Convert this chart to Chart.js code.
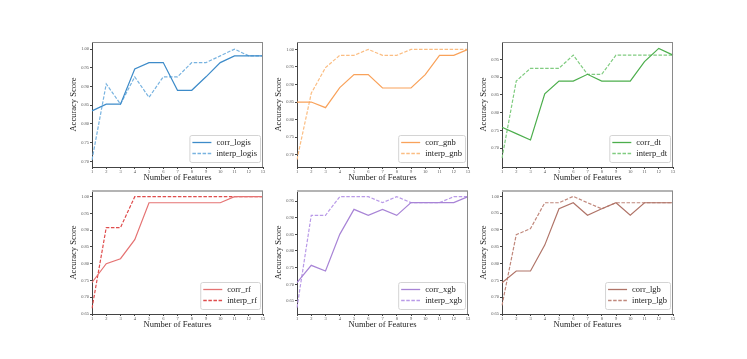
<!DOCTYPE html>
<html>
<head>
<meta charset="utf-8">
<script src="https://cdn.jsdelivr.net/npm/chart.js@4.4.0/dist/chart.umd.min.js"></script>
<style>
  body { margin: 0; background: #fff; width: 747px; height: 359px; position: relative; overflow: hidden; }
  canvas { position: absolute; }
</style>
</head>
<body>
<script>
// Number of features on the x axis
const features = [1, 2, 3, 4, 5, 6, 7, 8, 9, 10, 11, 12, 13];

// Accuracy scores
const corrLogis   = [0.835, 0.853, 0.853, 0.947, 0.964, 0.964, 0.890, 0.890, 0.926, 0.964, 0.982, 0.982, 0.982];
const interpLogis = [0.704, 0.907, 0.853, 0.926, 0.871, 0.926, 0.926, 0.964, 0.964, 0.982, 1.000, 0.982, 0.982];
const corrGnb     = [0.850, 0.850, 0.834, 0.891, 0.928, 0.928, 0.890, 0.890, 0.890, 0.928, 0.983, 0.983, 1.000];
const interpGnb   = [0.686, 0.875, 0.948, 0.983, 0.983, 1.000, 0.983, 0.983, 1.000, 1.000, 1.000, 1.000, 1.000];
const corrDt      = [0.759, 0.741, 0.723, 0.853, 0.889, 0.889, 0.908, 0.889, 0.889, 0.889, 0.944, 0.981, 0.962];
const interpDt    = [0.672, 0.889, 0.925, 0.925, 0.925, 0.962, 0.908, 0.908, 0.962, 0.962, 0.962, 0.962, 0.962];
const corrRf      = [0.744, 0.800, 0.815, 0.872, 0.982, 0.982, 0.982, 0.982, 0.982, 0.982, 1.000, 1.000, 1.000];
const interpRf    = [0.667, 0.908, 0.908, 1.000, 1.000, 1.000, 1.000, 1.000, 1.000, 1.000, 1.000, 1.000, 1.000];
const corrXgb     = [0.705, 0.757, 0.740, 0.850, 0.925, 0.907, 0.925, 0.907, 0.945, 0.945, 0.945, 0.945, 0.963];
const interpXgb   = [0.630, 0.907, 0.907, 0.963, 0.963, 0.963, 0.945, 0.963, 0.945, 0.945, 0.945, 0.963, 0.963];
const corrLgb     = [0.743, 0.778, 0.778, 0.855, 0.963, 0.981, 0.944, 0.963, 0.981, 0.944, 0.981, 0.981, 0.981];
const interpLgb   = [0.676, 0.886, 0.904, 0.981, 0.981, 1.000, 0.981, 0.963, 0.981, 0.981, 0.981, 0.981, 0.981];

// y tick labels of each panel
const ticksLogis = [0.70, 0.75, 0.80, 0.85, 0.90, 0.95, 1.00];
const ticksGnb   = [0.70, 0.75, 0.80, 0.85, 0.90, 0.95, 1.00];
const ticksDt    = [0.70, 0.75, 0.80, 0.85, 0.90, 0.95];
const ticksRf    = [0.65, 0.70, 0.75, 0.80, 0.85, 0.90, 0.95, 1.00];
const ticksXgb   = [0.65, 0.70, 0.75, 0.80, 0.85, 0.90, 0.95];
const ticksLgb   = [0.65, 0.70, 0.75, 0.80, 0.85, 0.90, 0.95, 1.00];

const SERIF = "'Liberation Serif', 'DejaVu Serif', serif";

const panels = [
  { name: 'logis',  corr: corrLogis,  interp: interpLogis,  ticks: ticksLogis, min: 0.685, max: 1.019, c1: '#3d8bc9', c2: '#78b3e0', left: 92,  top: 42,  h: 125, row: 0 },
  { name: 'gnb',    corr: corrGnb,    interp: interpGnb,    ticks: ticksGnb,   min: 0.665, max: 1.021, c1: '#f9a25a', c2: '#fbbd82', left: 297, top: 42,  h: 125, row: 0 },
  { name: 'dt',     corr: corrDt,     interp: interpDt,     ticks: ticksDt,    min: 0.647, max: 0.999, c1: '#4cae4c', c2: '#80cc80', left: 502, top: 42,  h: 125, row: 0 },
  { name: 'rf',     corr: corrRf,     interp: interpRf,     ticks: ticksRf,    min: 0.650, max: 1.017, c1: '#e57373', c2: '#df4c4c', left: 92,  top: 191, h: 123, row: 1 },
  { name: 'xgb',    corr: corrXgb,    interp: interpXgb,    ticks: ticksXgb,   min: 0.611, max: 0.980, c1: '#a884d6', c2: '#b99ae8', left: 297, top: 191, h: 123, row: 1 },
  { name: 'lgb',    corr: corrLgb,    interp: interpLgb,    ticks: ticksLgb,   min: 0.650, max: 1.016, c1: '#b07468', c2: '#c0887c', left: 502, top: 191, h: 123, row: 1 }
];

// Frame (top / right spines) and a matplotlib-like legend in the lower right
const framePlugin = {
  id: 'frame_and_legend',
  afterDraw: (chart) => {
    const ctx = chart.ctx;
    const a = chart.chartArea;
    const row = chart.options.plugins.frame_and_legend.row;
    ctx.save();
    // top spine: thin dark on the first row, thicker light grey on the second
    ctx.strokeStyle = row === 0 ? '#8a8a8a' : '#b4b4b4';
    ctx.lineWidth = row === 0 ? 1 : 2;
    ctx.beginPath();
    ctx.moveTo(a.left, a.top + (row === 0 ? 0.5 : 0));
    ctx.lineTo(a.right, a.top + (row === 0 ? 0.5 : 0));
    ctx.stroke();
    ctx.strokeStyle = '#8a8a8a';
    ctx.lineWidth = 1;
    ctx.beginPath();
    ctx.moveTo(a.right - 0.5, a.top);
    ctx.lineTo(a.right - 0.5, a.bottom);
    ctx.stroke();

    // legend
    const sets = chart.data.datasets;
    ctx.font = '8.5px ' + SERIF;
    let tw = 0;
    sets.forEach(ds => { tw = Math.max(tw, ctx.measureText(ds.label).width); });
    const w = 27 + tw + 3;
    const h = 27;
    const x = a.right - 3 - w;
    const y = a.bottom - 5 - h;
    ctx.fillStyle = 'rgba(255,255,255,0.85)';
    ctx.strokeStyle = '#d4d4d4';
    ctx.beginPath();
    ctx.roundRect(x + 0.5, y + 0.5, w, h, 2);
    ctx.fill();
    ctx.stroke();
    sets.forEach((ds, i) => {
      const ly = y + 7.5 + i * 11;
      ctx.strokeStyle = ds.borderColor;
      ctx.lineWidth = 1.3;
      ctx.setLineDash(ds.borderDash || []);
      ctx.beginPath();
      ctx.moveTo(x + 3, ly);
      ctx.lineTo(x + 22, ly);
      ctx.stroke();
      ctx.setLineDash([]);
      ctx.fillStyle = '#222';
      ctx.textBaseline = 'middle';
      ctx.textAlign = 'left';
      ctx.fillText(ds.label, x + 27, ly);
    });
    ctx.restore();
  }
};

const Y_AXIS_W = 23;
const X_AXIS_H = 16;
const PAD = { top: 5, right: 5, bottom: 2, left: 0 };
const AREA_W = 171;

panels.forEach(p => {
  const canvas = document.createElement('canvas');
  canvas.width = Y_AXIS_W + AREA_W + PAD.right;
  canvas.height = PAD.top + p.h + X_AXIS_H + PAD.bottom;
  canvas.style.left = (p.left - Y_AXIS_W) + 'px';
  canvas.style.top = (p.top - PAD.top) + 'px';
  document.body.appendChild(canvas);

  new Chart(canvas, {
    type: 'line',
    data: {
      labels: features,
      datasets: [
        { label: 'corr_' + p.name, data: p.corr, borderColor: p.c1, borderWidth: 1.2, pointRadius: 0, tension: 0, fill: false },
        { label: 'interp_' + p.name, data: p.interp, borderColor: p.c2, borderWidth: 1.2, borderDash: [3.5, 1.6], pointRadius: 0, tension: 0, fill: false }
      ]
    },
    options: {
      responsive: false,
      animation: false,
      devicePixelRatio: 1,
      layout: { padding: PAD },
      plugins: { legend: { display: false }, tooltip: { enabled: false }, frame_and_legend: { row: p.row } },
      scales: {
        x: {
          grid: { drawOnChartArea: false, drawTicks: true, tickLength: 2, color: '#444' },
          border: { color: '#444', width: 1 },
          ticks: { autoSkip: false, maxRotation: 0, padding: 0, color: '#555', font: { size: 4.5, family: SERIF } },
          title: { display: true, text: 'Number of Features', color: '#222', padding: 0, font: { size: 8.5, family: SERIF } },
          afterFit: (scale) => { scale.height = X_AXIS_H; }
        },
        y: {
          min: p.min,
          max: p.max,
          grid: { drawOnChartArea: false, drawTicks: true, tickLength: 2, color: '#444' },
          border: { color: '#444', width: 1 },
          ticks: { padding: 1, color: '#555', font: { size: 4.5, family: SERIF }, callback: (v) => v.toFixed(2) },
          afterBuildTicks: (scale) => { scale.ticks = p.ticks.map(v => ({ value: v })); },
          title: { display: true, text: 'Accuracy Score', color: '#222', padding: 0, font: { size: 8.5, family: SERIF } },
          afterFit: (scale) => { scale.width = Y_AXIS_W; }
        }
      }
    },
    plugins: [framePlugin]
  });
});
</script>
</body>
</html>
